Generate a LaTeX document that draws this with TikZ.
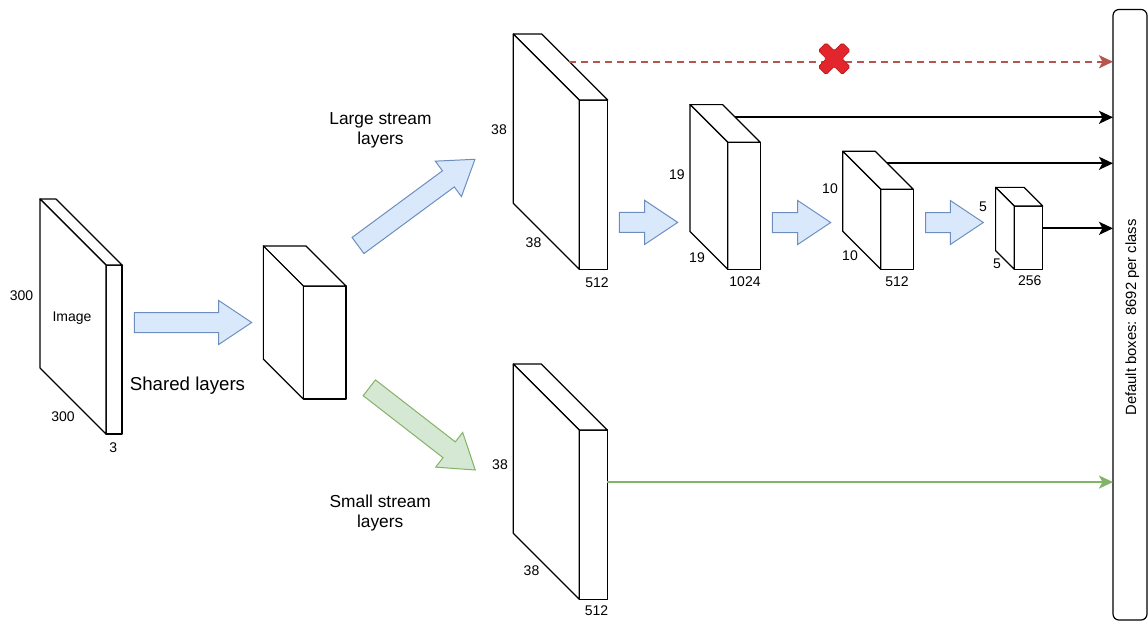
\documentclass[tikz,border=0pt]{standalone}
\usepackage{fontspec}
\setmainfont{Liberation Sans}
\usetikzlibrary{arrows.meta,calc}

\definecolor{blueFill}{HTML}{DAE8FC}
\definecolor{blueLine}{HTML}{6C8EBF}
\definecolor{greenFill}{HTML}{D5E8D4}
\definecolor{greenLine}{HTML}{82B366}
\definecolor{redLine}{HTML}{B85450}
\definecolor{crossFill}{HTML}{E3262E}
\definecolor{crossLine}{HTML}{B71C1C}

\tikzset{
  cubeface/.style={draw, fill=white, line width=0.9pt, inner sep=0pt, outer sep=0pt, line join=round},
  cubeedge/.style={draw, fill=white, line width=0.9pt, line join=round},
  dimlbl/.style={font=\fontsize{10.5}{12}\selectfont, inner sep=0pt},
  stagelbl/.style={font=\fontsize{13}{15.2}\selectfont, align=center, inner sep=0pt},
  sharedlbl/.style={font=\fontsize{14}{16}\selectfont, inner sep=0pt},
  flowblue/.style={draw=blueLine, fill=blueFill, line width=0.75pt, line join=miter},
  flowgreen/.style={draw=greenLine, fill=greenFill, line width=0.75pt, line join=miter},
  feed/.style={line width=1.6pt, -{Stealth[length=10.5pt, width=9.75pt, inset=2.6pt]}},
  feedblack/.style={feed, draw=black},
  feedgreen/.style={feed, draw=greenLine},
  feedred/.style={feed, draw=redLine, dash pattern=on 5.25pt off 3.75pt},
  panelbox/.style={draw, line width=0.9pt, rounded corners=4.5pt, inner sep=0pt, outer sep=0pt,
    minimum width=25.5pt, minimum height=457.9pt},
}

% feature-map cuboid: name, centre of front slab (x,y), slab width, slab height, depth
\newcommand\cuboid[6]{%
  \node[cubeface, minimum width={#4*0.75pt}, minimum height={#5*0.75pt}] (#1) at (#2,#3) {};
  \filldraw[cubeedge] (#1.north west) -- ++(-#6,-#6) -- ++(#4,0) -- (#1.north east) -- cycle;
  \filldraw[cubeedge] (#1.north west) -- ++(-#6,-#6) -- ++(0,#5) -- (#1.south west) -- cycle;
}

% block arrow: style, tail (x,y), angle, total length
\newcommand\blockarrow[5]{%
  \draw[#1, shift={(#2,#3)}, rotate=#4]
    (0,-10) -- ({#5-33},-10) -- ({#5-33},-22) -- (#5,0) -- ({#5-33},22) -- ({#5-33},10) -- (0,10) -- cycle;
}

\begin{document}
\begin{tikzpicture}[x=0.75pt, y=-0.75pt]
\useasboundingbox (0,0) rectangle (1148,621);

% output panel
\node[panelbox] (panel) at (1130,314.75) {};
\node[rotate=90, font=\fontsize{11.1}{13}\selectfont, inner sep=0pt] (paneltext) at (1132.3,317.5) {Default boxes: 8692 per class};

% input image
\cuboid{img}{114}{349.5}{16}{169}{66}
\node[dimlbl] (img-h) at (21.5,295.7) {300};
\node[dimlbl, anchor=base] (img-name) at (72,321) {Image};
\node[dimlbl] (img-w) at (63,416.7) {300};
\node[dimlbl] (img-c) at (113.3,447.3) {3};

% shared layers
\cuboid{shared}{324.7}{342.5}{42.7}{113}{40}
\blockarrow{flowblue}{134.3}{322.5}{0}{117.4}
\node[sharedlbl, anchor=base] (sharedtxt) at (187.5,390) {Shared layers};

% large stream
\blockarrow{flowblue}{358}{245.5}{36.4}{145.3}
\node[stagelbl] (largetxt) at (380.5,130.7) {Large stream\\layers};
\cuboid{L38}{593.5}{184.7}{28.4}{169.3}{66}
\node[dimlbl] (L38-h) at (499,129.3) {38};
\node[dimlbl] (L38-w) at (533.5,242.7) {38};
\node[dimlbl] (L38-c) at (597,282.3) {512};

\blockarrow{flowblue}{619.3}{222.4}{0}{58.4}
\cuboid{c19}{744}{205.8}{32.6}{127}{37.7}
\node[dimlbl] (c19-h) at (676.8,175) {19};
\node[dimlbl] (c19-w) at (697,257.7) {19};
\node[dimlbl] (c19-c) at (745,281.7) {1024};

\blockarrow{flowblue}{772.3}{222.5}{0}{58.4}
\cuboid{c10}{897}{229.3}{32.6}{80}{38}
\node[dimlbl] (c10-h) at (830,189) {10};
\node[dimlbl] (c10-w) at (850,255.7) {10};
\node[dimlbl] (c10-c) at (897,281.7) {512};

\blockarrow{flowblue}{925.7}{222.5}{0}{57.6}
\cuboid{c5}{1028.5}{237.7}{28.4}{63.3}{18.7}
\node[dimlbl] (c5-h) at (983,206.7) {5};
\node[dimlbl] (c5-w) at (997,263.3) {5};
\node[dimlbl] (c5-c) at (1029.7,280.7) {256};

% small stream
\blockarrow{flowgreen}{369.3}{387.8}{-37.8}{134.1}
\node[stagelbl] (smalltxt) at (380.2,513.2) {Small stream\\layers};
\cuboid{S38}{593.3}{514.7}{28}{169.3}{66}
\node[dimlbl] (S38-h) at (500,464.3) {38};
\node[dimlbl] (S38-w) at (531.5,571) {38};
\node[dimlbl] (S38-c) at (596.5,610.7) {512};

% connections to the output panel
\coordinate (L38-out) at ($(L38.north east)+(-38.3,-38.3)$);
\coordinate (c19-out) at ($(c19.north east)+(-25,-25)$);
\coordinate (c10-out) at ($(c10.north east)+(-26,-26)$);
\coordinate (c5-out)  at ($(c5.north east)+(0,22.3)$);
\coordinate (S38-out) at ($(S38.north east)+(0,52)$);

\draw[feedred]   (L38-out) -- (L38-out -| panel.west);
\draw[feedblack] (c19-out) -- (c19-out -| panel.west);
\draw[feedblack] (c10-out) -- (c10-out -| panel.west);
\draw[feedblack] (c5-out)  -- (c5-out -| panel.west);
\draw[feedgreen] (S38-out) -- (S38-out -| panel.west);

% disabled-output mark on the dashed link
\filldraw[fill=crossFill, draw=crossLine, line width=0.5pt, rounded corners=1.2pt, shift={(834.2,58.7)}, rotate=45]
  (17,5.5) -- (5.5,5.5) -- (5.5,17) -- (-5.5,17) -- (-5.5,5.5) -- (-17,5.5) -- (-17,-5.5)
  -- (-5.5,-5.5) -- (-5.5,-17) -- (5.5,-17) -- (5.5,-5.5) -- (17,-5.5) -- cycle;
\end{tikzpicture}
\end{document}
